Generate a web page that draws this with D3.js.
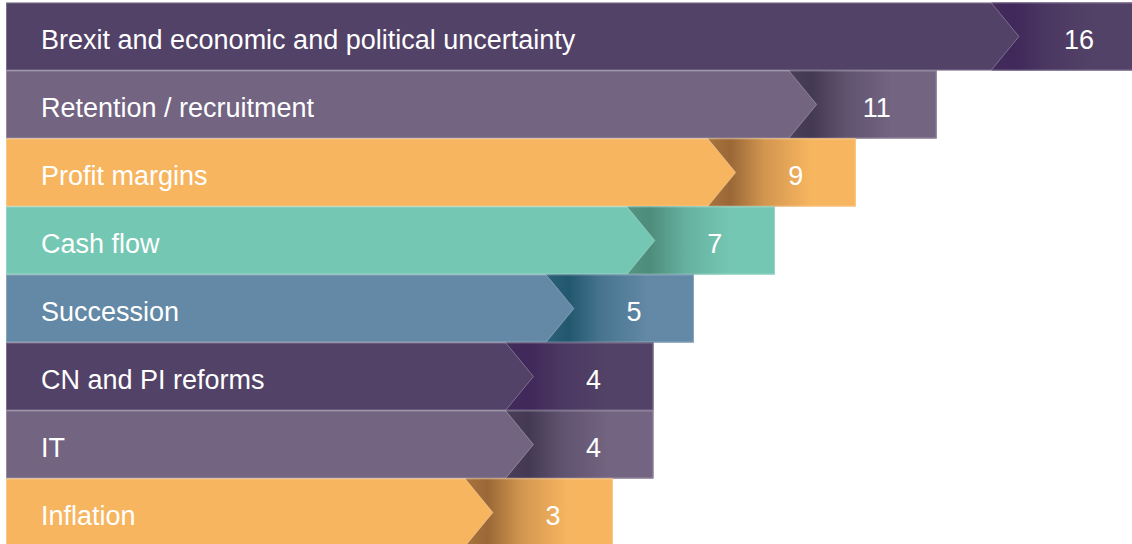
<!DOCTYPE html>
<html>
<head>
<meta charset="utf-8">
<script src="https://cdn.jsdelivr.net/npm/d3@7"></script>
<style>
  html, body { margin: 0; padding: 0; background: #ffffff; }
  svg { display: block; }
  text { font-family: "Liberation Sans", Arial, Helvetica, sans-serif; }
</style>
</head>
<body>
<svg id="chart" width="1132" height="544"></svg>
<script>
// Business concerns, ranked
const categories = [
  "Brexit and economic and political uncertainty",
  "Retention / recruitment",
  "Profit margins",
  "Cash flow",
  "Succession",
  "CN and PI reforms",
  "IT",
  "Inflation"
];
const values = [16, 11, 9, 7, 5, 4, 4, 3];

// Fill colour of each bar and the shade used behind its chevron
const barColors   = ["#534267", "#736482", "#f7b55f", "#74c7b3", "#6389a6", "#534267", "#736482", "#f7b55f"];
const shadeColors = ["#40285a", "#433953", "#9a6837", "#4e8c7b", "#22586f", "#40285a", "#433953", "#9a6837"];

const width = 1132, height = 544;
const left = 6;
const svg = d3.select("#chart");
const defs = svg.append("defs");

const x = d3.scaleLinear().domain([0, 16]).range([491.6, 1139]);
const y = d3.scaleBand().domain(categories).range([2.5, 546.5]).padding(0);

const rows = categories.map((c, i) => ({ name: c, value: values[i], i }));

const g = svg.selectAll("g.row").data(rows).join("g").attr("class", "row");

// Bar body
g.append("rect")
  .attr("x", left)
  .attr("y", d => y(d.name))
  .attr("width", d => x(d.value) - left)
  .attr("height", y.bandwidth())
  .attr("fill", d => barColors[d.i]);

// Shaded tail behind the chevron
g.each(function (d) {
  const end = x(d.value);
  const tip = end - 120;
  const base = tip - 28;
  const top = y(d.name), bot = top + y.bandwidth(), mid = top + y.bandwidth() / 2;
  const id = "shade" + d.i;
  const grad = defs.append("linearGradient")
    .attr("id", id)
    .attr("gradientUnits", "userSpaceOnUse")
    .attr("x1", base).attr("x2", tip + 75)
    .attr("y1", 0).attr("y2", 0);
  grad.append("stop").attr("offset", 0).attr("stop-color", shadeColors[d.i]).attr("stop-opacity", 0.85);
  grad.append("stop").attr("offset", 0.22).attr("stop-color", shadeColors[d.i]);
  grad.append("stop").attr("offset", 0.55).attr("stop-color", d3.interpolateRgb(shadeColors[d.i], barColors[d.i])(0.6));
  grad.append("stop").attr("offset", 1).attr("stop-color", barColors[d.i]);

  const sel = d3.select(this);
  sel.append("path")
    .attr("d", `M${base},${top} L${tip},${mid} L${base},${bot} L${end},${bot} L${end},${top} Z`)
    .attr("fill", `url(#${id})`);
  sel.append("path")
    .attr("d", `M${base},${top} L${tip},${mid} L${base},${bot}`)
    .attr("fill", "none")
    .attr("stroke", "rgba(255,255,255,0.28)")
    .attr("stroke-width", 1);

  // Thin light edge round the bar
  sel.append("rect")
    .attr("x", left + 0.5)
    .attr("y", top + 0.5)
    .attr("width", end - left - 1)
    .attr("height", y.bandwidth() - 1)
    .attr("fill", "none")
    .attr("stroke", "rgba(255,255,255,0.25)")
    .attr("stroke-width", 1);

  // Value, centred in the tail
  sel.append("text")
    .attr("x", (tip + end) / 2)
    .attr("y", mid + 12.5)
    .attr("text-anchor", "middle")
    .attr("fill", "#ffffff")
    .attr("font-size", 27)
    .text(d.value);
});

// Category labels
g.append("text")
  .attr("x", 41)
  .attr("y", d => y(d.name) + y.bandwidth() / 2 + 12)
  .attr("fill", "#ffffff")
  .attr("font-size", 27)
  .text(d => d.name);
</script>
</body>
</html>
